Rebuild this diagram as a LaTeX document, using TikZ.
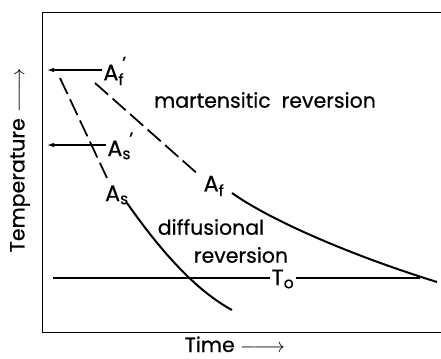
\documentclass[tikz,border=0pt]{standalone}
\usepackage{amsmath}
\usepackage{fontspec}
\setmainfont{Poppins}[FakeBold=0.5]
\usepackage{tikz}
\usetikzlibrary{arrows.meta, positioning, calc}

\begin{document}
\begin{tikzpicture}[x=0.03cm,y=-0.03cm,
    lbl/.style={font=\fontsize{17.5}{21}\selectfont,inner sep=1pt},
    sym/.style={font=\fontsize{19}{22}\selectfont,inner sep=1pt},
    curve/.style={line width=1.7pt},
    dashcurve/.style={line width=1.5pt,dash pattern=on 15pt off 5pt},
    tickarrow/.style={line width=1.2pt,-{Latex[length=6pt,width=4pt]}}]
          \useasboundingbox (0,0)rectangle(441,358);
          % frame
          \draw[line width=0.8pt](441,12)--(42,12)--(42,332)--(441,332);
          % axis labels
          \node[lbl,rotate=90](temp)at(20,160){Temperature \(\relbar\joinrel\longrightarrow\)};
          \node[lbl,anchor=base](time)at(235,352){Time \(\relbar\joinrel\longrightarrow\)};
          % start/finish labels
          \node[sym,anchor=west](afp)at(102,71){A\(_{\text{f}}\)\kern-0.08em\raisebox{0.5em}{\fontsize{15}{15}\selectfont’}};
          \node[sym,anchor=west](asp)at(106,146){A\(_{\text{s}}\)\kern-0.08em\raisebox{0.5em}{\fontsize{15}{15}\selectfont’}};
          \node[sym](as)at(117,195){A\(_{\text{s}}\)};
          \node[sym](af)at(214,186){A\(_{\text{f}}\)};
          \coordinate(afend)at(47,70);
          \coordinate(asend)at(47,145);
          \draw[tickarrow](afp.west|-afend)--(afend);
          \draw[tickarrow](asp.west|-asend)--(asend);
          % region texts
          \node[lbl](mart)at(265,100){martensitic\ \ reversion};
          \node[lbl](diff)at(211,227){diffusional};
          \node[lbl](rev)at(241,255){reversion};
          % curves
          \coordinate(asa)at(60,78);
          \coordinate(asb)at(107,178);
          \coordinate(asc)at(127,203);
          \coordinate(asd)at(232,310);
          \draw[dashcurve](asa)--(asb);
          \draw[curve](asc)..controls(160,250)and(195,290)..(asd);
          \coordinate(afa)at(95,83);
          \coordinate(afb)at(200,176);
          \coordinate(afc)at(232,193);
          \coordinate(afd)at(437,282);
          \draw[dashcurve](afa)--(afb);
          \draw[curve](afc)..controls(270,220)and(350,255)..(afd);
          % T0 line
          \node[sym](to)at(283,279){T\(_{\text{o}}\)};
          \coordinate(toa)at(53,278);
          \coordinate(tob)at(420,278);
          \draw[line width=1pt](toa)--(toa-|to.west);
          \draw[line width=1pt](to.east|-tob)--(tob);
        \end{tikzpicture}
\end{document}
